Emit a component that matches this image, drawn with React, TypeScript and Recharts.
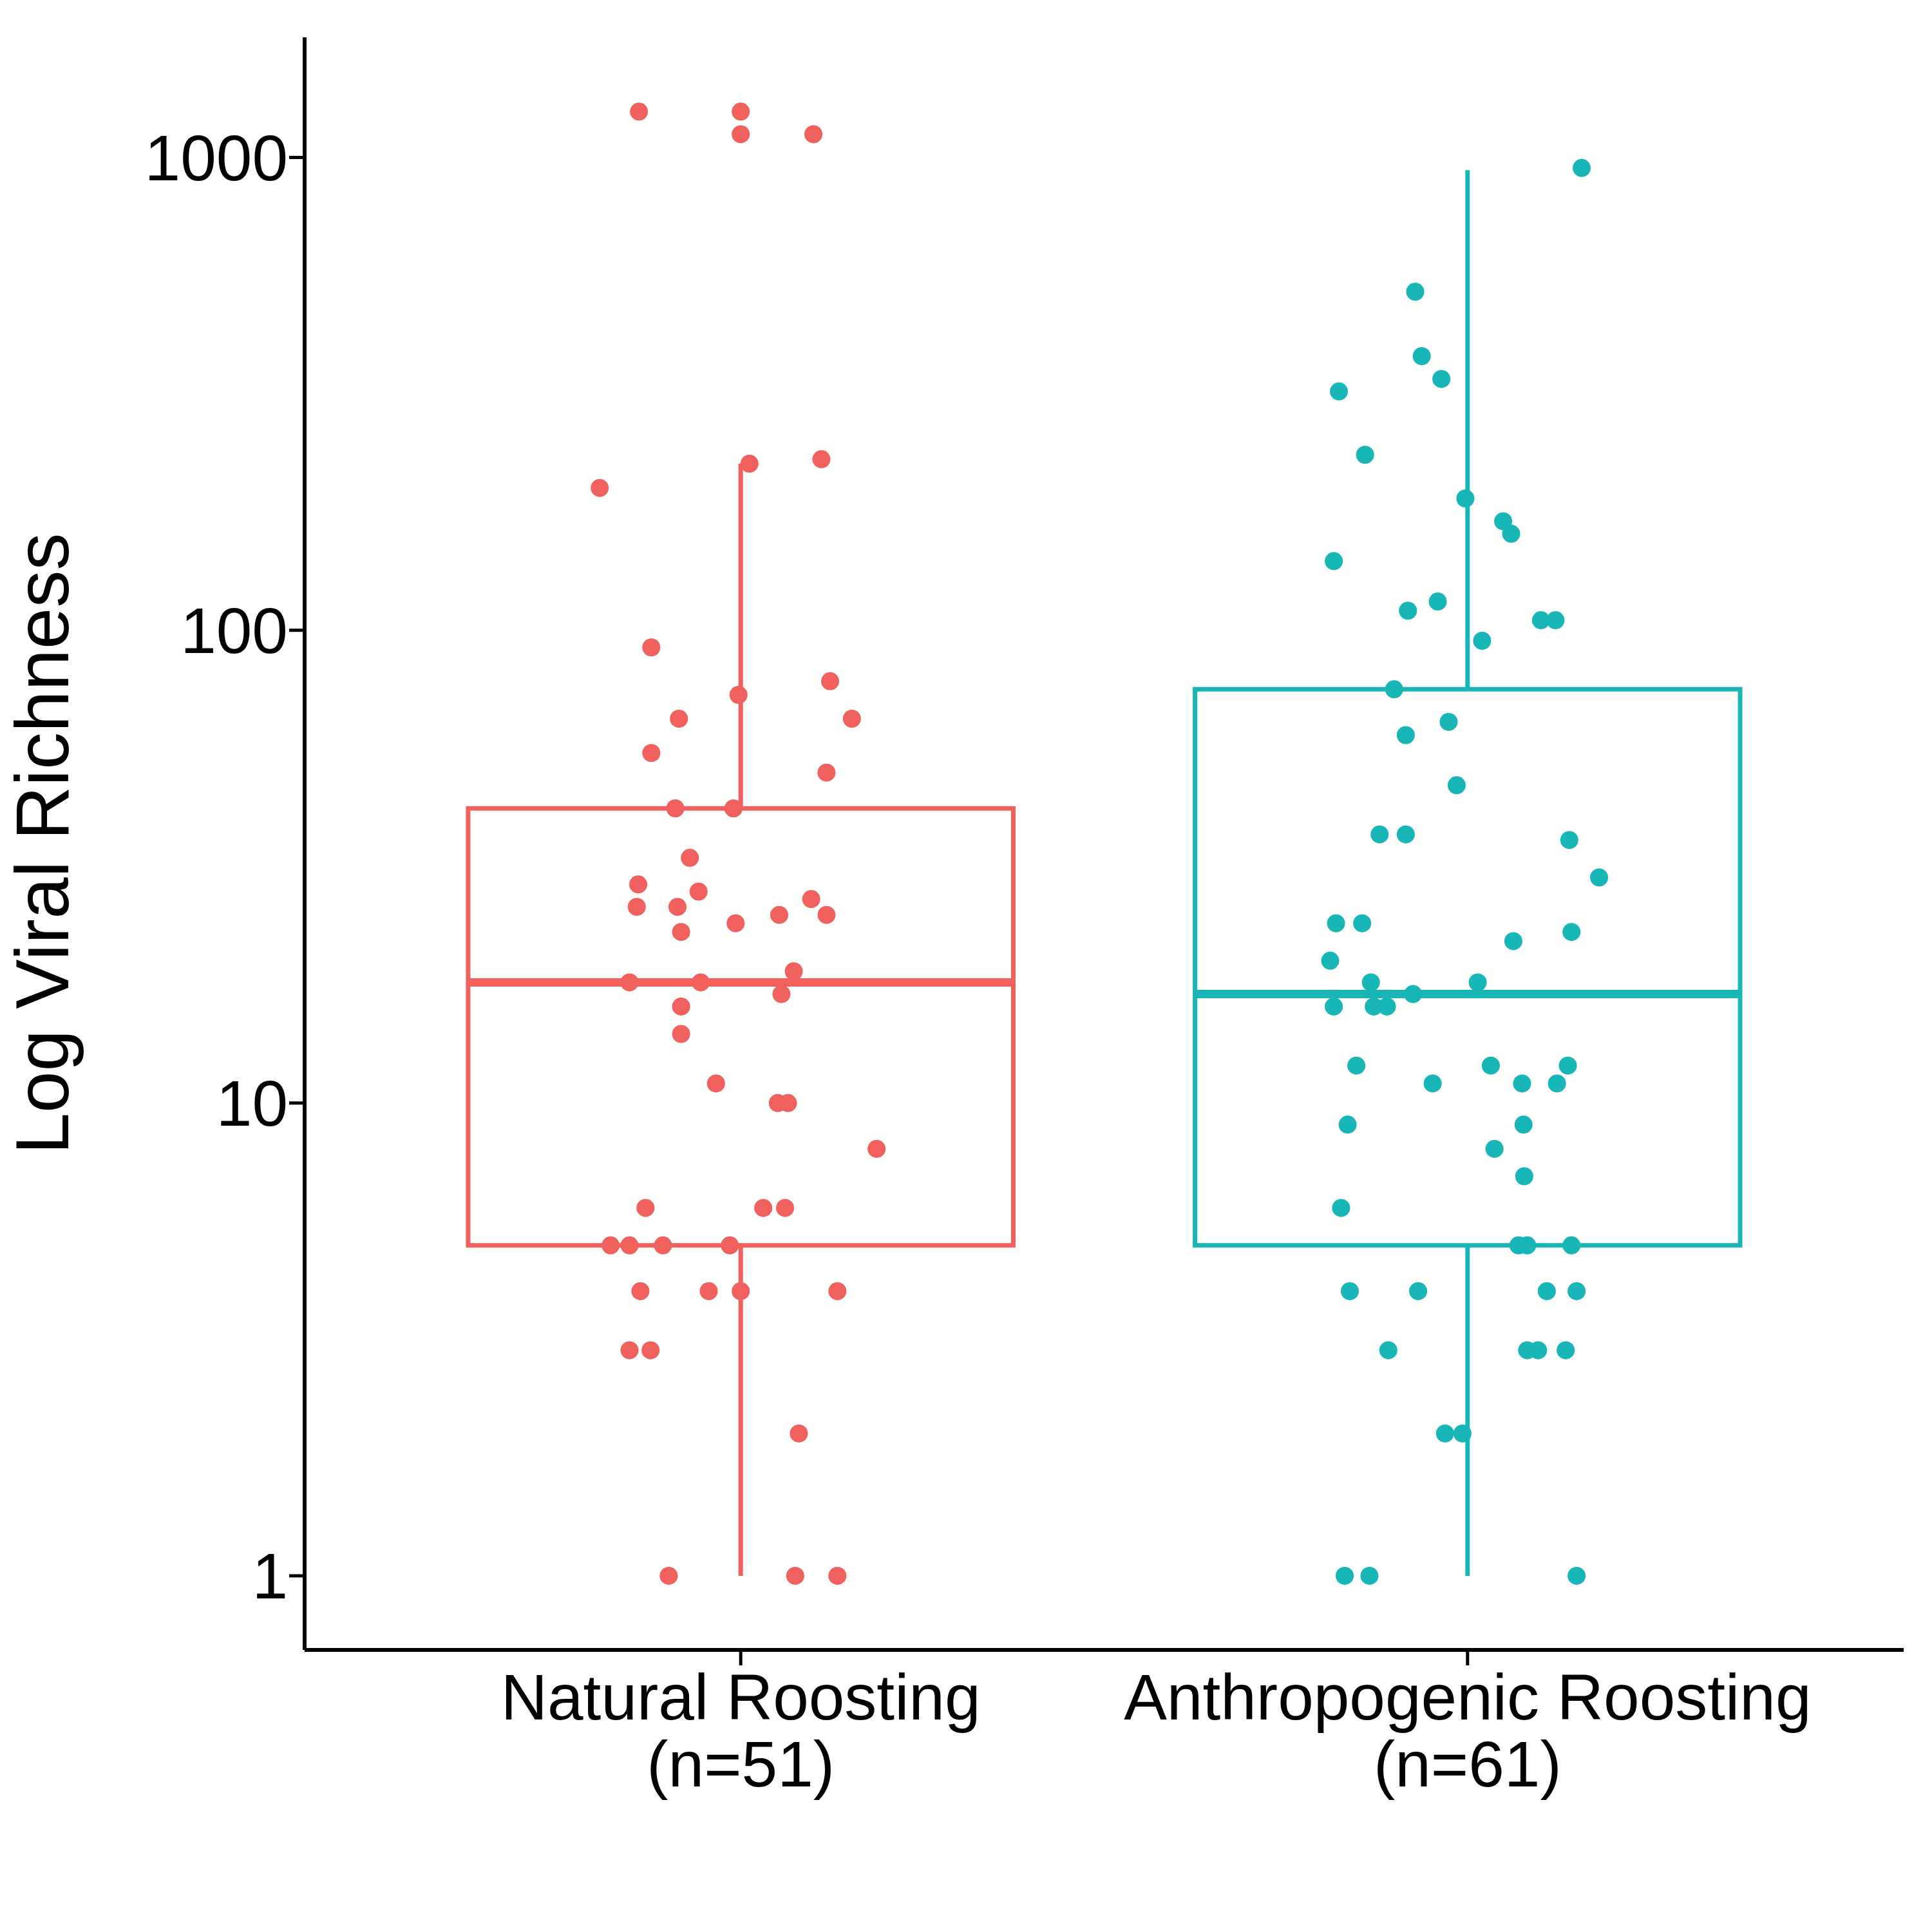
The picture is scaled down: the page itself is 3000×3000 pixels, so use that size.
import React from 'react';
import { ScatterChart, Scatter, XAxis, YAxis, ReferenceArea, ReferenceLine } from 'recharts';

const categories = ['Natural Roosting\n(n=51)', 'Anthropogenic Roosting\n(n=61)'];
const yTicks = [1, 10, 100, 1000];

// jittered x positions (category units) and viral richness
const natX = [0.860, 1.0, 1.0, 1.100, 1.012, 1.111, 0.806, 0.877, 0.997, 1.123, 1.153, 0.915, 0.877, 1.118,
  0.910, 0.990, 0.930, 0.859, 0.942, 0.857, 0.913, 1.097, 1.053, 1.118, 0.993, 0.918, 1.073, 0.847, 0.945,
  1.056, 0.918, 0.918, 0.966, 1.051, 1.065, 1.187, 0.869, 1.031, 1.061, 0.821, 0.847, 0.893, 0.985, 0.862,
  0.956, 1.0, 1.133, 0.847, 0.876, 1.080, 0.901, 1.075, 1.133];
const natY = [1250, 1250, 1120, 1120, 225, 230, 200, 92, 73, 78, 65, 65, 55, 50,
  42, 42, 33, 29, 28, 26, 26, 27, 25, 25, 24, 23, 19, 18, 18,
  17, 16, 14, 11, 10, 10, 8, 6, 6, 6, 5, 5, 5, 5, 4,
  4, 4, 4, 3, 3, 2, 1, 1, 1];

const antX = [2.157, 1.928, 1.937, 1.964, 1.823, 1.859, 1.997, 2.049, 2.060, 1.816, 1.959, 1.918, 2.101, 2.121,
  2.020, 1.899, 1.974, 1.915, 1.985, 1.879, 1.915, 2.140, 2.181, 1.819, 1.855, 2.143, 2.063, 1.811, 1.867,
  2.014, 1.925, 1.871, 1.889, 1.816, 1.847, 2.032, 2.138, 1.952, 2.075, 2.123, 1.835, 2.077, 2.037, 2.078,
  1.826, 2.070, 2.082, 2.143, 1.838, 1.932, 2.109, 2.150, 1.891, 2.082, 2.097, 2.135, 1.969, 1.993, 1.831,
  1.865, 2.150];
const antY = [950, 520, 380, 340, 320, 235, 190, 170, 160, 140, 115, 110, 105, 105,
  95, 75, 64, 60, 47, 37, 37, 36, 30, 24, 24, 23, 22, 20, 18,
  18, 17, 16, 16, 16, 12, 12, 12, 11, 11, 11, 9, 9, 8, 7,
  6, 5, 5, 5, 4, 4, 4, 4, 3, 3, 3, 3, 2, 2, 1,
  1, 1];

// box stats: [lowWhisker, q1, median, q3, highWhisker]
const natBox = [1, 5, 18, 42, 225];
const antBox = [1, 5, 17, 75, 940];

const RED = '#F0605D';
const TEAL = '#19B6B8';
const HALF = 0.375;

const natData = natX.map((x, i) => ({ x, y: natY[i] }));
const antData = antX.map((x, i) => ({ x, y: antY[i] }));

const dot = (color: string) => (p: any) => <circle cx={p.cx} cy={p.cy} r={14} fill={color} />;

const XTick = (props: any) => {
  const { x, y, payload } = props;
  const lines = categories[payload.value - 1].split('\n');
  return (
    <g transform={`translate(${x},${y})`}>
      {lines.map((l, i) => (
        <text key={i} x={0} y={82 + i * 104} textAnchor="middle" fontSize={100} fill="#000">{l}</text>
      ))}
    </g>
  );
};

function Box({ s, c, color }: { s: number[]; c: number; color: string }) {
  return null;
}

export default function App() {
  const boxes = [
    { s: natBox, c: 1, color: RED },
    { s: antBox, c: 2, color: TEAL },
  ];
  return (
    <div style={{ position: 'absolute', left: 0, top: 0, background: '#fff', fontFamily: '"Liberation Sans", Arial, sans-serif' }}>
      <ScatterChart width={3000} height={3000} margin={{ top: 58, right: 44, bottom: 0, left: 0 }}>
        <XAxis type="number" dataKey="x" domain={[0.4, 2.6]} ticks={[1, 2]} tick={<XTick />}
          height={438} axisLine={{ stroke: '#000', strokeWidth: 6 }} tickLine={{ stroke: '#000', strokeWidth: 5 }}
          tickSize={24} allowDataOverflow />
        <YAxis type="number" dataKey="y" scale="log" domain={[0.697, 1795]} ticks={yTicks} width={473}
          allowDataOverflow axisLine={{ stroke: '#000', strokeWidth: 6 }} tickLine={{ stroke: '#000', strokeWidth: 5 }}
          tickSize={24} tick={{ fontSize: 100, fill: '#000' }}
          label={{ value: 'Log Viral Richness', angle: -90, position: 'insideLeft', dx: 60, fontSize: 116, fill: '#000', style: { textAnchor: 'middle' } }} />
        {boxes.map((b) => [
          <ReferenceLine key={`wl${b.c}`} segment={[{ x: b.c, y: b.s[0] }, { x: b.c, y: b.s[1] }]} stroke={b.color} strokeWidth={7} />,
          <ReferenceLine key={`wh${b.c}`} segment={[{ x: b.c, y: b.s[3] }, { x: b.c, y: b.s[4] }]} stroke={b.color} strokeWidth={7} />,
          <ReferenceArea key={`bx${b.c}`} x1={b.c - HALF} x2={b.c + HALF} y1={b.s[1]} y2={b.s[3]} fill="none" fillOpacity={0} stroke={b.color} strokeWidth={7} strokeOpacity={1} />,
          <ReferenceLine key={`md${b.c}`} segment={[{ x: b.c - HALF, y: b.s[2] }, { x: b.c + HALF, y: b.s[2] }]} stroke={b.color} strokeWidth={13} />,
        ])}
        <Scatter data={natData} fill={RED} shape={dot(RED)} isAnimationActive={false} />
        <Scatter data={antData} fill={TEAL} shape={dot(TEAL)} isAnimationActive={false} />
      </ScatterChart>
    </div>
  );
}
